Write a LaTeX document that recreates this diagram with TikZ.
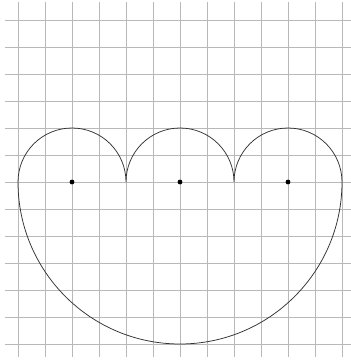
\documentclass[tikz,border=0pt]{standalone}
\begin{document}
\begin{tikzpicture}[x=1cm,y=1cm,
  gridline/.style={draw=black!28, line width=0.9pt},
  outline/.style={draw=black!80, line width=0.8pt},
  centerdot/.style={fill=black}]
\useasboundingbox (-6.6667,-6.5926) rectangle (6.3333,6.7407);
\begin{scope}
\clip (-6.6667,-6.5926) rectangle (6.3333,6.7407);
\foreach \i in {-6,...,6} {
  \draw[gridline] (\i,-6.48) -- (\i,6.67);
}
\foreach \j in {-6,...,6} {
  \draw[gridline] (-6.48,\j) -- (6.4,\j);
}
\end{scope}
\draw[outline] (-6,0) arc[start angle=180,end angle=0,radius=2]
  arc[start angle=180,end angle=0,radius=2]
  arc[start angle=180,end angle=0,radius=2]
  arc[start angle=0,end angle=-180,radius=6] -- cycle;
\coordinate (c1) at (-4,0);
\coordinate (c2) at (0,0);
\coordinate (c3) at (4,0);
\foreach \c in {c1,c2,c3} {
  \fill[centerdot] (\c) circle[radius=0.09];
}
\end{tikzpicture}
\end{document}
